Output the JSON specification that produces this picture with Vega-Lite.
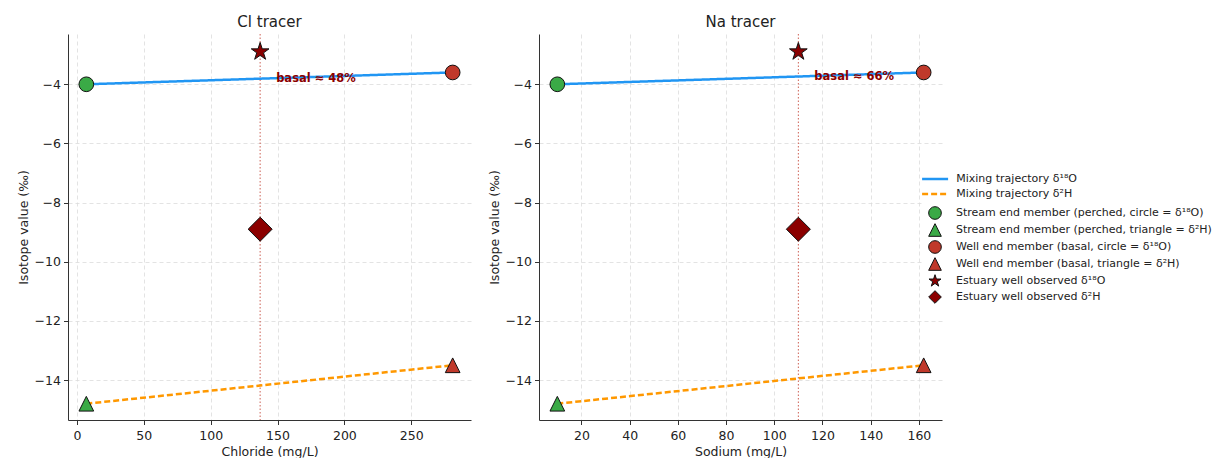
{
  "$schema": "https://vega.github.io/schema/vega-lite/v6.json",
  "background": "white",
  "padding": {"left": 17, "top": 14, "right": 0, "bottom": 0},
  "config": {
    "font": "DejaVu Sans",
    "view": {"stroke": null},
    "concat": {"spacing": 17},
    "axis": {
      "labelFont": "DejaVu Sans", "labelFontSize": 12.5, "labelColor": "#222",
      "titleFont": "DejaVu Sans", "titleFontSize": 12.5, "titleFontWeight": "normal", "titleColor": "#222",
      "domainColor": "#333", "tickColor": "#333", "tickSize": 4.5, "labelPadding": 3,
      "gridColor": "#dcdcdc", "gridDash": [4, 3], "gridWidth": 0.8
    },
    "axisX": {"titlePadding": 3, "labelPadding": 5},
    "title": {"font": "DejaVu Sans", "fontSize": 15, "fontWeight": "normal", "color": "#222", "offset": 4},
    "legend": {
      "labelFont": "DejaVu Sans", "labelFontSize": 11, "labelColor": "#222", "labelLimit": 400,
      "fillColor": "white", "padding": 4
    }
  },
  "datasets": {
    "cl": [
      {"conc": 7, "value": -4.0, "series": "Mixing trajectory δ¹⁸O", "kind": "line"},
      {"conc": 281, "value": -3.6, "series": "Mixing trajectory δ¹⁸O", "kind": "line"},
      {"conc": 7, "value": -14.8, "series": "Mixing trajectory δ²H", "kind": "line"},
      {"conc": 281, "value": -13.5, "series": "Mixing trajectory δ²H", "kind": "line"},
      {"conc": 7, "value": -4.0, "series": "Stream end member (perched, circle = δ¹⁸O)", "kind": "end"},
      {"conc": 7, "value": -14.8, "series": "Stream end member (perched, triangle = δ²H)", "kind": "end"},
      {"conc": 281, "value": -3.6, "series": "Well end member (basal, circle = δ¹⁸O)", "kind": "end"},
      {"conc": 281, "value": -13.5, "series": "Well end member (basal, triangle = δ²H)", "kind": "end"},
      {"conc": 137, "value": -2.9, "series": "Estuary well observed δ¹⁸O", "kind": "star"},
      {"conc": 137, "value": -8.9, "series": "Estuary well observed δ²H", "kind": "diamond"},
      {"conc": 137, "value": -3.81, "series": "annotation", "kind": "note", "label": "basal ≈ 48%"}
    ],
    "na": [
      {"conc": 10, "value": -4.0, "series": "Mixing trajectory δ¹⁸O", "kind": "line"},
      {"conc": 162, "value": -3.6, "series": "Mixing trajectory δ¹⁸O", "kind": "line"},
      {"conc": 10, "value": -14.8, "series": "Mixing trajectory δ²H", "kind": "line"},
      {"conc": 162, "value": -13.5, "series": "Mixing trajectory δ²H", "kind": "line"},
      {"conc": 10, "value": -4.0, "series": "Stream end member (perched, circle = δ¹⁸O)", "kind": "end"},
      {"conc": 10, "value": -14.8, "series": "Stream end member (perched, triangle = δ²H)", "kind": "end"},
      {"conc": 162, "value": -3.6, "series": "Well end member (basal, circle = δ¹⁸O)", "kind": "end"},
      {"conc": 162, "value": -13.5, "series": "Well end member (basal, triangle = δ²H)", "kind": "end"},
      {"conc": 110, "value": -2.9, "series": "Estuary well observed δ¹⁸O", "kind": "star"},
      {"conc": 110, "value": -8.9, "series": "Estuary well observed δ²H", "kind": "diamond"},
      {"conc": 110, "value": -3.74, "series": "annotation", "kind": "note", "label": "basal ≈ 66%"}
    ]
  },
  "resolve": {"scale": {"x": "independent", "y": "independent"}},
  "hconcat": [
    {
      "title": "Cl tracer",
      "width": 403, "height": 386,
      "data": {"name": "cl"},
      "encoding": {
        "x": {"field": "conc", "type": "quantitative", "title": "Chloride (mg/L)",
              "scale": {"domain": [-6.7, 294.7], "nice": false, "zero": false},
              "axis": {"values": [0, 50, 100, 150, 200, 250], "grid": true}},
        "y": {"field": "value", "type": "quantitative", "title": "Isotope value (‰)",
              "scale": {"domain": [-15.35, -2.3], "nice": false, "zero": false},
              "axis": {"values": [-14, -12, -10, -8, -6, -4], "grid": true}}
      },
      "layer": [
        {
          "transform": [{"filter": "datum.kind == 'star'"}],
          "mark": {"type": "rule", "color": "#c0392b", "strokeDash": [1.5, 2], "strokeWidth": 1, "opacity": 0.8},
          "encoding": {"y": null}
        },
        {
          "transform": [{"filter": "datum.kind == 'line'"}],
          "mark": {"type": "line", "strokeWidth": 2.5},
          "encoding": {
            "stroke": {"field": "series", "type": "nominal", "title": null,
                       "scale": {"domain": ["Mixing trajectory δ¹⁸O", "Mixing trajectory δ²H"], "range": ["#2196f3", "#ff9800"]},
                       "legend": {"orient": "none", "legendX": 853.6, "legendY": 131.5, "symbolType": "M-1.6,0L1.6,0", "symbolSize": 264, "symbolStrokeWidth": 2.5, "labelOffset": 11.6, "rowPadding": 0}},
            "strokeDash": {"field": "series", "type": "nominal", "title": null,
                       "scale": {"domain": ["Mixing trajectory δ¹⁸O", "Mixing trajectory δ²H"], "range": [[1, 0], [6, 3]]},
                       "legend": {"orient": "none", "legendX": 853.6, "legendY": 131.5, "symbolType": "M-1.6,0L1.6,0", "symbolSize": 264, "symbolStrokeWidth": 2.5, "labelOffset": 11.6, "rowPadding": 0}}
          }
        },
        {
          "transform": [{"filter": "datum.kind == 'note'"}],
          "mark": {"type": "text", "align": "left", "baseline": "middle", "dx": 16, "fontWeight": "bold", "fontSize": 11.5, "color": "#8b0000"},
          "encoding": {"text": {"field": "label"}}
        },
        {
          "transform": [{"filter": "datum.kind == 'end'"}],
          "mark": {"type": "point", "filled": true, "size": 216, "strokeWidth": 1, "opacity": 1},
          "encoding": {
            "stroke": {"value": "#111"},
            "shape": {"field": "series", "type": "nominal", "title": null,
              "scale": {"domain": ["Stream end member (perched, circle = δ¹⁸O)", "Stream end member (perched, triangle = δ²H)", "Well end member (basal, circle = δ¹⁸O)", "Well end member (basal, triangle = δ²H)", "Estuary well observed δ¹⁸O", "Estuary well observed δ²H"],
                        "range": ["circle", "M0,-1L1,1L-1,1Z", "circle", "M0,-1L1,1L-1,1Z", "M0,-1L0.225,-0.309L0.951,-0.309L0.363,0.118L0.588,0.809L0,0.382L-0.588,0.809L-0.363,0.118L-0.951,-0.309L-0.225,-0.309Z", "diamond"]},
              "legend": {"orient": "none", "legendX": 856, "legendY": 168, "symbolSize": 160, "symbolStrokeWidth": 1, "symbolOpacity": 1, "labelOffset": 14, "rowPadding": -1}},
            "fill": {"field": "series", "type": "nominal", "title": null,
              "scale": {"domain": ["Stream end member (perched, circle = δ¹⁸O)", "Stream end member (perched, triangle = δ²H)", "Well end member (basal, circle = δ¹⁸O)", "Well end member (basal, triangle = δ²H)", "Estuary well observed δ¹⁸O", "Estuary well observed δ²H"],
                        "range": ["#3aaa46", "#3aaa46", "#c0392b", "#c0392b", "#8b0000", "#8b0000"]},
              "legend": {"orient": "none", "legendX": 856, "legendY": 168, "symbolSize": 160, "symbolStrokeWidth": 1, "symbolOpacity": 1, "labelOffset": 14, "rowPadding": -1}}
          }
        },
        {
          "transform": [{"filter": "datum.kind == 'star'"}],
          "mark": {"type": "point", "filled": true, "size": 347, "strokeWidth": 1, "opacity": 1},
          "encoding": {
            "stroke": {"value": "#111"},
            "shape": {"field": "series", "type": "nominal", "title": null},
            "fill": {"field": "series", "type": "nominal", "title": null}
          }
        },
        {
          "transform": [{"filter": "datum.kind == 'diamond'"}],
          "mark": {"type": "point", "filled": true, "size": 576, "strokeWidth": 1, "opacity": 1},
          "encoding": {
            "stroke": {"value": "#111"},
            "shape": {"field": "series", "type": "nominal", "title": null},
            "fill": {"field": "series", "type": "nominal", "title": null}
          }
        }
      ]
    },
    {
      "title": "Na tracer",
      "width": 403, "height": 386,
      "data": {"name": "na"},
      "encoding": {
        "x": {"field": "conc", "type": "quantitative", "title": "Sodium (mg/L)",
              "scale": {"domain": [2.4, 169.6], "nice": false, "zero": false},
              "axis": {"values": [20, 40, 60, 80, 100, 120, 140, 160], "grid": true}},
        "y": {"field": "value", "type": "quantitative", "title": "Isotope value (‰)",
              "scale": {"domain": [-15.35, -2.3], "nice": false, "zero": false},
              "axis": {"values": [-14, -12, -10, -8, -6, -4], "grid": true}}
      },
      "layer": [
        {
          "transform": [{"filter": "datum.kind == 'star'"}],
          "mark": {"type": "rule", "color": "#c0392b", "strokeDash": [1.5, 2], "strokeWidth": 1, "opacity": 0.8},
          "encoding": {"y": null}
        },
        {
          "transform": [{"filter": "datum.kind == 'line'"}],
          "mark": {"type": "line", "strokeWidth": 2.5},
          "encoding": {
            "stroke": {"field": "series", "type": "nominal", "title": null},
            "strokeDash": {"field": "series", "type": "nominal", "title": null}
          }
        },
        {
          "transform": [{"filter": "datum.kind == 'note'"}],
          "mark": {"type": "text", "align": "left", "baseline": "middle", "dx": 16, "fontWeight": "bold", "fontSize": 11.5, "color": "#8b0000"},
          "encoding": {"text": {"field": "label"}}
        },
        {
          "transform": [{"filter": "datum.kind == 'end'"}],
          "mark": {"type": "point", "filled": true, "size": 216, "strokeWidth": 1, "opacity": 1},
          "encoding": {
            "stroke": {"value": "#111"},
            "shape": {"field": "series", "type": "nominal", "title": null},
            "fill": {"field": "series", "type": "nominal", "title": null}
          }
        },
        {
          "transform": [{"filter": "datum.kind == 'star'"}],
          "mark": {"type": "point", "filled": true, "size": 347, "strokeWidth": 1, "opacity": 1},
          "encoding": {
            "stroke": {"value": "#111"},
            "shape": {"field": "series", "type": "nominal", "title": null},
            "fill": {"field": "series", "type": "nominal", "title": null}
          }
        },
        {
          "transform": [{"filter": "datum.kind == 'diamond'"}],
          "mark": {"type": "point", "filled": true, "size": 576, "strokeWidth": 1, "opacity": 1},
          "encoding": {
            "stroke": {"value": "#111"},
            "shape": {"field": "series", "type": "nominal", "title": null},
            "fill": {"field": "series", "type": "nominal", "title": null}
          }
        }
      ]
    }
  ]
}
